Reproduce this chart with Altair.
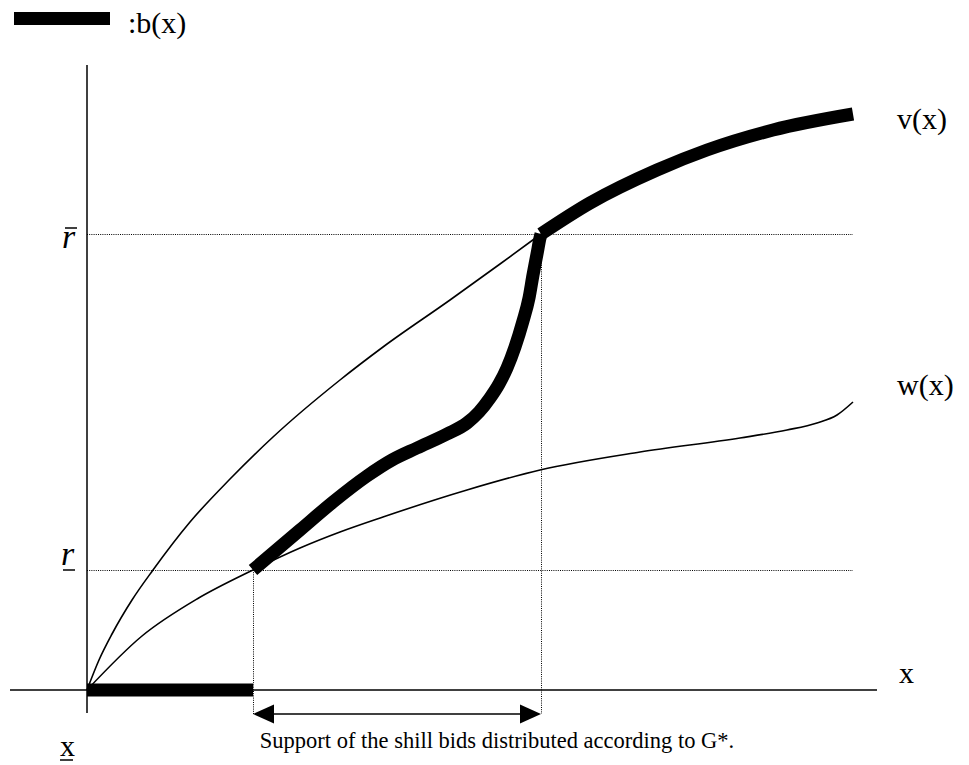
import altair as alt
import pandas as pd

# Coordinates: horizontal distance from the origin, vertical height above the x-axis
# v(x) thin part (from origin up to the level r-bar)
v_thin_x = [0, 12, 25, 45, 66, 103, 143, 186, 253, 296, 363, 413, 454]
v_thin_y = [0, 30, 56, 90, 120, 168, 211, 253, 310, 343, 390, 426, 456]
# v(x) thick part (b(x) = v(x) beyond the x of r-bar)
v_thick_x = [454, 503, 570, 620, 686, 766]
v_thick_y = [456, 487, 520, 540, 560, 576]
# w(x)
w_x = [0, 55, 110, 166, 213, 253, 296, 380, 453, 553, 653, 700, 730, 750, 766]
w_y = [0, 54, 91, 120, 142, 158, 173, 200, 220, 238, 252, 260, 267, 275, 288]
# b(x) thick middle part
b_x = [166, 213, 246, 280, 305, 330, 360, 380, 392, 403, 412, 420, 428, 436, 442, 446, 450, 453, 454]
b_y = [120, 160, 188, 214, 230, 242, 256, 267, 278, 292, 306, 322, 343, 369, 392, 415, 436, 452, 456]
# b(x) on the axis, up to the x of r
b_flat_x = [0, 166]
# levels
r_low = 120
r_high = 456
x_r_low = 166
x_r_high = 454
axis_x_start, axis_x_end = -77, 790
axis_y_bottom, axis_y_top = -23, 625
dotted_end = 766
arrow_y = -24

XDOM = [-79, 874]
YDOM = [-74, 682]
W, H = 953, 756

xs = alt.Scale(domain=XDOM, nice=False, zero=False)
ys = alt.Scale(domain=YDOM, nice=False, zero=False)
FONT = "Liberation Serif"


def X(f="x"):
    return alt.X(f"{f}:Q", scale=xs, axis=None)


def Y(f="y"):
    return alt.Y(f"{f}:Q", scale=ys, axis=None)


def line(xv, yv, width):
    df = pd.DataFrame({"x": xv, "y": yv, "o": list(range(len(xv)))})
    return alt.Chart(df).mark_line(
        color="black", strokeWidth=width, interpolate="monotone", strokeCap="butt"
    ).encode(x=X(), y=Y(), order="o:Q")


# solid rules: axes, arrow shaft, r-bar overbar, r underline, x underline
rules_df = pd.DataFrame({
    "x": [axis_x_start, 0, x_r_low + 2, -22, -24, -27],
    "x2": [axis_x_end, 0, x_r_high - 2, -10, -12, -14],
    "y": [0, axis_y_bottom, arrow_y, r_high + 6, r_low, -70],
    "y2": [0, axis_y_top, arrow_y, r_high + 6, r_low, -70],
})
rules = alt.Chart(rules_df).mark_rule(color="black", strokeWidth=1.5).encode(
    x=X(), x2="x2:Q", y=Y(), y2="y2:Q"
)

# dotted guide lines
hdots_df = pd.DataFrame({"x": [0, 0], "x2": [dotted_end, dotted_end], "y": [r_low, r_high]})
hdots = alt.Chart(hdots_df).mark_rule(
    color="black", strokeWidth=1, strokeDash=[1, 1.2], yOffset=0.5
).encode(x=X(), x2="x2:Q", y=Y())
vdots_df = pd.DataFrame({"x": [x_r_low, x_r_high], "y": [r_low, r_high], "y2": [arrow_y, arrow_y]})
vdots = alt.Chart(vdots_df).mark_rule(
    color="black", strokeWidth=1, strokeDash=[1, 1.2], xOffset=0.5
).encode(x=X(), y=Y(), y2="y2:Q")

# thick b(x) on the axis
flat_df = pd.DataFrame({"x": b_flat_x, "y": [0, 0]})
flat = alt.Chart(flat_df).mark_line(color="black", strokeWidth=13, strokeCap="butt").encode(
    x=X(), y=Y()
)

# legend sample bar
leg_df = pd.DataFrame({"x": [-73], "x2": [23], "y": [665], "y2": [678]})
leg = alt.Chart(leg_df).mark_rect(color="black").encode(x=X(), x2="x2:Q", y=Y(), y2="y2:Q")

# arrow heads
left_head = alt.Chart(pd.DataFrame({"x": [x_r_low], "y": [arrow_y]})).mark_point(
    shape="M0,0L2,-0.9L2,0.9Z", filled=True, color="black", opacity=1, size=441, strokeWidth=0
).encode(x=X(), y=Y())
right_head = alt.Chart(pd.DataFrame({"x": [x_r_high], "y": [arrow_y]})).mark_point(
    shape="M0,0L-2,-0.9L-2,0.9Z", filled=True, color="black", opacity=1, size=441, strokeWidth=0
).encode(x=X(), y=Y())

# labels
lab_text = [":b(x)", "v(x)", "w(x)", "x", "x"]
lab_x = [41, 810, 810, 812, -27]
lab_y = [657, 561, 295, 7, -66]
labels = alt.Chart(pd.DataFrame({"t": lab_text, "x": lab_x, "y": lab_y})).mark_text(
    font=FONT, fontSize=30, align="left", baseline="alphabetic", color="black"
).encode(x=X(), y=Y(), text="t:N")

r_labels = alt.Chart(pd.DataFrame({"t": ["r", "r"], "x": [-25, -26], "y": [442, 125]})).mark_text(
    font=FONT, fontSize=34, fontStyle="italic", align="left", baseline="alphabetic", color="black"
).encode(x=X(), y=Y(), text="t:N")

caption = alt.Chart(pd.DataFrame({
    "t": ["Support of the shill bids distributed according to G*."],
    "x": [410], "y": [-58]
})).mark_text(
    font=FONT, fontSize=22.5, align="center", baseline="alphabetic", color="black"
).encode(x=X(), y=Y(), text="t:N")

chart = alt.layer(
    hdots,
    vdots,
    line(v_thin_x, v_thin_y, 1.6),
    line(w_x, w_y, 1.6),
    rules,
    flat,
    line(b_x, b_y, 13),
    line(v_thick_x, v_thick_y, 13),
    leg,
    left_head,
    right_head,
    labels,
    r_labels,
    caption,
).properties(
    width=W, height=H, padding=0,
    autosize=alt.AutoSizeParams(type="none"),
).configure_view(stroke=None)

chart.save("out.html", embed_options={"renderer": "svg", "actions": False})
